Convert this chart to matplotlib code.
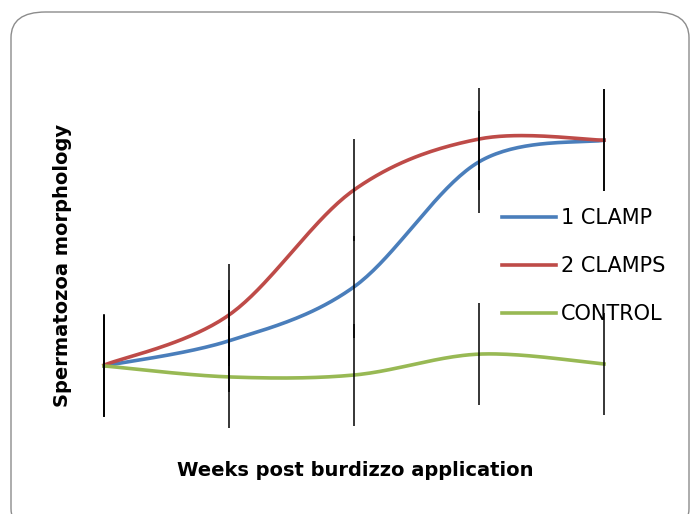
import numpy as np
import matplotlib.pyplot as plt
from matplotlib.patches import FancyBboxPatch

weeks = [0, 1, 2, 3, 4]
one_clamp = [19.5, 26.1, 40.3, 73.2, 78.9]
two_clamps = [19.7, 32.9, 65.8, 79.2, 78.9]
control = [19.5, 16.6, 17.1, 22.6, 20.0]
err = 13.4

series = [("1 CLAMP", one_clamp, "#4a7ebb"),
          ("2 CLAMPS", two_clamps, "#be4b48"),
          ("CONTROL", control, "#98b954")]


def smooth(x, y, n=40):
    # excel-like bezier smoothing through the points
    x = np.asarray(x, float)
    y = np.asarray(y, float)
    xs, ys = [], []
    for i in range(len(x) - 1):
        p0 = np.array([x[max(i - 1, 0)], y[max(i - 1, 0)]])
        p1 = np.array([x[i], y[i]])
        p2 = np.array([x[i + 1], y[i + 1]])
        p3 = np.array([x[min(i + 2, len(x) - 1)], y[min(i + 2, len(x) - 1)]])
        c1 = p1 + (p2 - p0) / 6
        c2 = p2 - (p3 - p1) / 6
        t = np.linspace(0, 1, n)[:, None]
        b = (1 - t) ** 3 * p1 + 3 * (1 - t) ** 2 * t * c1 + 3 * (1 - t) * t ** 2 * c2 + t ** 3 * p2
        xs.append(b[:, 0])
        ys.append(b[:, 1])
    return np.concatenate(xs), np.concatenate(ys)


fig = plt.figure(figsize=(6.91, 5.14), dpi=100)
W, H = 691, 514
border = FancyBboxPatch((11 / W, -20 / H), 678 / W, (514 - 12 + 20) / H,
                        boxstyle="round,pad=0,rounding_size=0.05",
                        transform=fig.transFigure, facecolor="none",
                        edgecolor="#8c8c8c", linewidth=1.0, zorder=-1)
fig.patches.append(border)

ax = fig.add_axes([104 / W, (514 - 440) / H, 500 / W, 380 / H])
ax.set_xlim(0, 4)
ax.set_ylim(0, 100)
ax.axis("off")

for name, vals, col in series:
    sx, sy = smooth(weeks, vals)
    ax.plot(sx, sy, color=col, lw=2.6, label=name, zorder=3, clip_on=False)
    ax.errorbar(weeks, vals, yerr=err, fmt="none", ecolor="black",
                elinewidth=1.1, capsize=0, zorder=6, clip_on=False)

leg = ax.legend(loc="upper left", bbox_to_anchor=(392 / 500, (440 - 202) / 380),
                frameon=False, fontsize=15, handlelength=2.6, handletextpad=0.2,
                labelspacing=1.35, borderpad=0.3, borderaxespad=0)
leg.set_zorder(5)
for line in leg.get_lines():
    line.set_linewidth(2.6)

fig.text(63 / W, 1 - 265 / H, "Spermatozoa morphology", rotation=90,
         ha="center", va="center", fontsize=14, fontweight="bold")
fig.text(355 / W, 1 - 470 / H, "Weeks post burdizzo application",
         ha="center", va="center", fontsize=14, fontweight="bold")

fig.savefig("out.png", dpi=100)
